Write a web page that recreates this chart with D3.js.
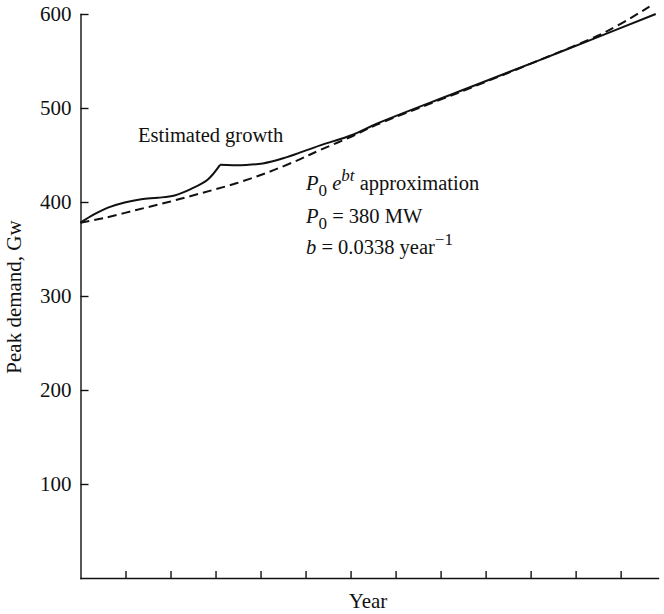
<!DOCTYPE html>
<html>
<head>
<meta charset="utf-8">
<script src="https://cdn.jsdelivr.net/npm/d3@7"></script>
<style>
  body { margin: 0; background: #fff; }
  svg text { font-family: "Liberation Serif", "Times New Roman", serif; fill: #111; }
  .axis path, .axis line { stroke: #111; stroke-width: 1.4; }
  .axis text { font-size: 21px; }
</style>
</head>
<body>
<div id="chart"></div>
<script>
// Year index (t) and peak demand (Gw).
// The estimated-growth curve has a kink, so it is kept as two pieces.
var growthEarlyYears  = [0, 0.31, 0.61, 0.98, 1.35, 1.72, 2.09, 2.46, 2.83, 3.10];
var growthEarlyDemand = [378, 387, 394, 399.5, 403, 404.5, 407, 414, 424, 439.5];
var growthLateYears   = [3.10, 3.42, 4.05, 4.57, 4.87, 5.31, 6.05, 6.57, 8.38, 10.2, 11.31, 12.78];
var growthLateDemand  = [439.5, 439, 441, 447.5, 452.5, 460, 471.5, 483, 517, 551, 572, 600];

// P0 e^bt approximation (dashed)
var approxYears  = [0, 0.50, 1.24, 1.98, 2.72, 3.46, 4.20, 4.87, 5.31, 6.05, 6.57, 8.38, 10.2, 11.68, 12.64];
var approxDemand = [378, 382.7, 391.5, 400.3, 409.9, 419.9, 432.2, 445.4, 455, 470.2, 482, 516, 551, 581.2, 607.8];

var yTickValues = [100, 200, 300, 400, 500, 600];
var xTickValues = [1, 2, 3, 4, 5, 6, 7, 8, 9, 10, 11, 12];

function zipPoints(xs, ys) {
  return xs.map(function (x, i) { return {t: x, v: ys[i]}; });
}

function demandChart(id) {
  var width = 664, height = 614;

  var xScale = d3.scaleLinear().domain([0, 12.83]).range([80.5, 658]),
      yScale = d3.scaleLinear().domain([0, 600]).range([578, 14]);

  var xAxis = d3.axisBottom(xScale)
                .tickValues(xTickValues)
                .tickSizeInner(-7)
                .tickSizeOuter(0)
                .tickFormat("");

  var yAxis = d3.axisLeft(yScale)
                .tickValues(yTickValues)
                .tickSizeInner(-8)
                .tickSizeOuter(0)
                .tickPadding(9);

  var svg = d3.select("div#" + id)
             .append("svg")
               .attr("width", width)
               .attr("height", height);

  svg.append("g")
     .attr("class", "axis x-axis")
     .attr("transform", "translate(0," + yScale(0) + ")")
     .call(xAxis);

  svg.append("g")
     .attr("class", "axis y-axis")
     .attr("transform", "translate(" + xScale(0) + ",0)")
     .call(yAxis);

  svg.selectAll(".axis .domain").attr("stroke-linecap", "square");

  var line = d3.line()
               .x(function (d) { return xScale(d.t); })
               .y(function (d) { return yScale(d.v); })
               .curve(d3.curveCatmullRom.alpha(0.5));

  // Estimated growth (solid), drawn in two pieces so the kink stays sharp
  [zipPoints(growthEarlyYears, growthEarlyDemand),
   zipPoints(growthLateYears, growthLateDemand)].forEach(function (pts) {
    svg.append("path")
       .datum(pts)
       .attr("fill", "none")
       .attr("stroke", "#111")
       .attr("stroke-width", 2)
       .attr("d", line);
  });

  // Exponential approximation (dashed)
  svg.append("path")
     .datum(zipPoints(approxYears, approxDemand))
     .attr("fill", "none")
     .attr("stroke", "#111")
     .attr("stroke-width", 2)
     .attr("stroke-dasharray", "9,5")
     .attr("d", line);

  // Axis titles
  svg.append("text")
     .attr("x", 368)
     .attr("y", 608)
     .attr("text-anchor", "middle")
     .style("font-size", "21px")
     .text("Year");

  svg.append("text")
     .attr("transform", "translate(21,297) rotate(-90)")
     .attr("text-anchor", "middle")
     .style("font-size", "21px")
     .text("Peak demand, Gw");

  // Annotations
  svg.append("text")
     .attr("x", 138)
     .attr("y", 142)
     .style("font-size", "20.5px")
     .text("Estimated growth");

  var ann = svg.append("g").style("font-size", "20.5px");

  var l1 = ann.append("text").attr("x", 306).attr("y", 190);
  l1.append("tspan").style("font-style", "italic").text("P");
  l1.append("tspan").attr("dy", 6).style("font-size", "17px").text("0");
  l1.append("tspan").attr("dy", -6).text(" ");
  l1.append("tspan").style("font-style", "italic").text("e");
  l1.append("tspan").attr("dy", -9).style("font-size", "17px").style("font-style", "italic").text("bt");
  l1.append("tspan").attr("dy", 9).text(" approximation");

  var l2 = ann.append("text").attr("x", 306).attr("y", 223);
  l2.append("tspan").style("font-style", "italic").text("P");
  l2.append("tspan").attr("dy", 6).style("font-size", "17px").text("0");
  l2.append("tspan").attr("dy", -6).text(" = 380 MW");

  var l3 = ann.append("text").attr("x", 306).attr("y", 254);
  l3.append("tspan").style("font-style", "italic").text("b");
  l3.append("tspan").text(" = 0.0338 year");
  l3.append("tspan").attr("dy", -9).style("font-size", "17px").text("\u22121");
}

demandChart("chart");
</script>
</body>
</html>
